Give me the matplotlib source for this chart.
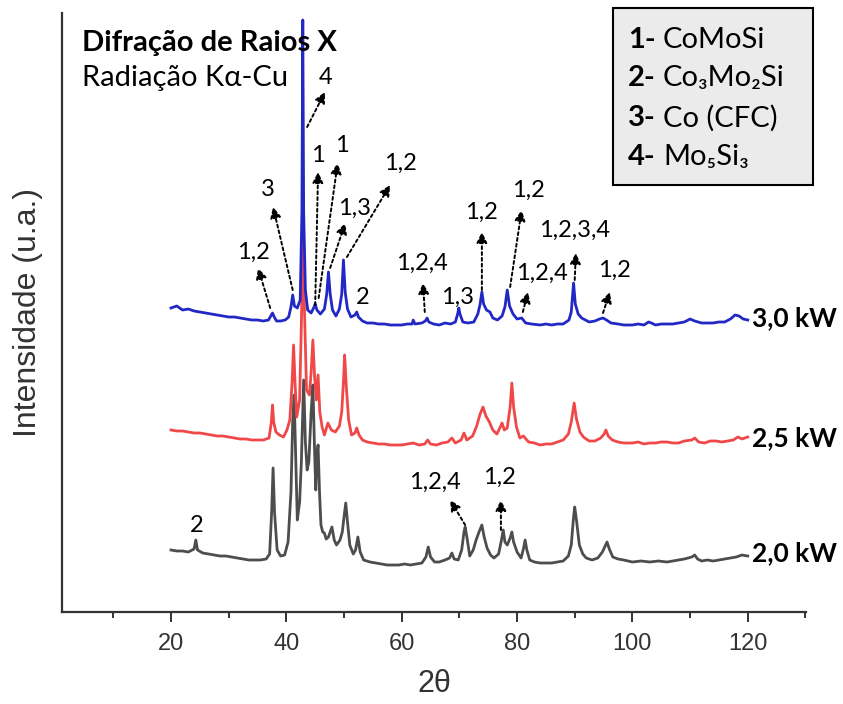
import matplotlib.pyplot as plt
from matplotlib.patches import Rectangle

# XRD traces: 2theta and intensity (arbitrary units)
tt_30 = [20, 21, 22, 23, 24, 25, 26, 27, 28, 29, 30, 31, 32, 33, 34, 35, 36, 36.9, 37.3, 37.6,
         37.9, 38.3, 39.0, 39.8, 40.4, 40.8, 41.1, 41.4, 41.9, 42.4, 42.7, 42.85, 43.0, 43.3,
         43.7, 44.3, 44.8, 45.0, 45.3, 45.9, 46.6, 47.0, 47.3, 47.6, 48.0, 48.6, 49.2, 49.6,
         49.9, 50.2, 50.6, 51.2, 51.9, 52.2, 52.5, 53.2, 54, 55, 56, 57, 58, 59, 60, 61, 61.8,
         62.0, 62.3, 63.5, 64.1, 64.4, 64.7, 65.5, 66.5, 67.5, 68.5, 69.3, 69.7, 69.9, 70.1,
         70.6, 71.5, 72.5, 73.2, 73.6, 73.9, 74.2, 74.7, 75.3, 75.8, 76.6, 77.4, 77.9, 78.3,
         78.7, 79.3, 80.0, 80.8, 81.5, 82.5, 84, 85, 86, 87, 88, 89.0, 89.4, 89.8, 90.1, 90.6,
         91.2, 92.5, 93.5, 94.3, 94.9, 95.5, 96.3, 97.5, 98.5, 100, 101, 102, 102.8, 103.3,
         104, 105, 106, 107, 108, 109, 110, 110.8, 112, 113, 114, 115, 116, 117, 117.8, 118.5,
         119.2, 120]
i_30 = [304, 306, 302, 303, 301, 300, 299, 298, 297, 296, 295, 295, 294, 293, 292, 292, 291,
        292, 296, 299, 295, 291, 291, 292, 295, 305, 317, 306, 304, 312, 400, 592, 400, 322,
        302, 299, 305, 308, 302, 298, 303, 318, 340, 318, 302, 296, 303, 318,
        352, 320, 303, 295, 297, 300, 295, 291, 289, 289, 288, 288, 287, 287, 287, 288, 288,
        292, 288, 289, 291, 294, 290, 288, 287, 289, 288, 290, 298, 304, 298,
        290, 289, 290, 298, 308, 320, 308, 302, 300, 294, 292, 296, 305, 322,
        306, 298, 293, 294, 289, 288, 287, 288, 287, 288, 288, 292, 300, 329, 308, 298,
        294, 290, 291, 293, 294, 292, 289, 288, 287, 287, 288, 287, 290, 289,
        287, 288, 288, 288, 289, 290, 293, 291, 289, 289, 289, 290, 290, 293, 297, 296,
        293, 292]

tt_25 = [20, 21, 22, 23, 24, 25, 26, 27, 28, 29, 30, 31, 32, 33, 34, 35, 36, 37.0, 37.4, 37.6,
         37.8, 38.2, 38.8, 39.5, 40.1, 40.6, 41.0, 41.25, 41.5, 41.8, 42.3, 42.65, 42.9, 43.15,
         43.5, 44.0, 44.3, 44.6, 44.9, 45.2, 45.5, 45.8, 46.2, 46.6, 47.2, 47.8, 48.5, 49.2,
         49.6, 49.9, 50.1, 50.4, 50.8, 51.3, 51.9, 52.2, 52.6, 53.2, 54, 55, 56, 57, 58, 59,
         60, 61, 62, 63, 64, 64.5, 65, 66, 67, 68, 68.7, 69.3, 70.3, 70.8, 71.3, 72.3, 73.0,
         73.6, 74.1, 74.6, 75.2, 75.8, 76.5, 77.1, 77.4, 77.8, 78.3, 78.8, 79.1, 79.4, 79.9,
         80.5, 81.1, 82, 83, 84, 85, 86, 87, 88, 88.9, 89.4, 89.9, 90.3, 90.9, 91.5, 92.5,
         93.5, 94.5, 95.1, 95.4, 95.8, 96.5, 97.5, 98.5, 100, 101, 102, 103, 104, 105, 106,
         107, 108, 109, 110.3, 110.8, 111.5, 112.5, 113.5, 114.5, 115.5, 116.5, 117.5, 118.3,
         119, 120]
i_25 = [182, 181, 181, 180, 179, 179, 178, 177, 176, 176, 175, 174, 173, 173, 172, 172, 172,
        174, 190, 207, 190, 180, 177, 175, 182, 192, 230, 267, 230, 195, 212, 300, 400, 300,
        222, 217, 240, 272, 235, 212, 237, 200, 185, 177, 189, 182, 180, 186,
        200, 230, 257, 225, 192, 177, 179, 184, 177, 172, 170, 169, 168, 168, 167, 167,
        167, 168, 169, 167, 168, 172, 168, 167, 169, 170, 174, 169, 172, 179, 172, 176, 186,
        198, 205, 196, 190, 182, 178, 185, 189, 182, 184, 205, 229, 205, 185,
        174, 176, 170, 169, 167, 168, 168, 170, 172, 178, 190, 209, 193, 180, 175, 171,
        171, 174, 178, 182, 176, 172, 170, 169, 169, 170, 168, 169, 169, 170, 170,
        169, 169, 171, 172, 174, 170, 169, 171, 171, 170, 171, 172, 175,
        173, 175]

tt_20 = [20, 21, 22, 23, 24.0, 24.3, 24.6, 25.5, 26.5, 27.5, 28.5, 29.5, 30.5, 31.5, 32.5,
         33.5, 34.5, 35.5, 36.5, 37.1, 37.45, 37.7, 37.95, 38.4, 39.0, 39.7, 40.3, 40.8, 41.1,
         41.35, 41.6, 41.9, 42.3, 42.6, 43.0, 43.3, 43.6, 43.9, 44.3, 44.6, 44.9, 45.1, 45.35,
         45.5, 45.75, 46.0, 46.3, 46.6, 46.9, 47.3, 47.9, 48.3, 48.7, 49.3, 49.7, 50.0, 50.3,
         50.6, 51.0, 51.6, 52.0, 52.4, 52.8, 53.4, 54.5, 55.5, 56.5, 57.5, 58.5, 59.5, 60.5,
         61.5, 62.5, 63.5, 64.2, 64.6, 65.0, 65.7, 66.5, 67.5, 68.3, 68.7, 69.1, 69.8, 70.4,
         70.8, 71.0, 71.3, 71.8, 72.4, 72.9, 73.4, 73.9, 74.3, 74.8, 75.4, 76.0, 76.8, 77.3,
         77.6, 77.9, 78.3, 78.8, 79.1, 79.4, 80.0, 80.7, 81.1, 81.4, 81.7, 82.2, 83, 84, 85,
         86, 87, 88, 88.9, 89.4, 89.8, 90.0, 90.3, 90.8, 91.4, 92, 93, 94, 94.8, 95.6, 96.0,
         96.6, 97.5, 98.5, 100, 101.5, 103, 104.5, 106, 107, 108, 109, 110.3, 110.8, 111.3,
         112, 113, 114, 115, 116, 117, 118, 119, 120]
i_20 = [62, 61, 61, 60, 63, 72, 62, 59, 58, 57, 56, 56, 55, 54, 53,
        52, 52, 52, 53, 58, 100, 144, 100, 62, 56, 57, 70, 120, 190,
        217, 160, 92, 110, 150, 232, 170, 142, 150, 200, 227, 160, 122, 160,
        167, 120, 87, 80, 79, 73, 75, 85, 72, 67, 72, 80, 95, 109,
        90, 67, 58, 62, 75, 60, 52, 50, 49, 48, 47, 47, 47, 48,
        47, 48, 49, 55, 65, 55, 50, 50, 52, 54, 59, 53, 52, 62,
        80, 85, 75, 56, 62, 72, 80, 87, 75, 64, 57, 54, 58, 72,
        82, 70, 67, 74, 80, 70, 60, 54, 63, 72, 62, 52, 50, 49, 49,
        49, 50, 51, 56, 67, 95, 105, 92, 67, 58, 54, 52, 54, 60, 70, 63,
        55, 53, 52, 50, 51, 50, 51, 50, 51, 52, 53, 55, 57, 53,
        51, 52, 51, 52, 53, 54, 55, 57, 56]

series_names = ['2,0 kW', '2,5 kW', '3,0 kW']
name_y = [59, 174, 294]

# peak labels with arrows: text, text position, arrow start, arrow tip
arrow_labels = ['1,2', '3', '4', '1', '1', '1,3', '1,2', '1,2,4', '1,2', '1,2',
                '1,2,4', '1,2,3,4', '1,2', '1,2,4', '1,2']
label_xy = [(34.2, 360), (36.8, 422), (46.8, 535), (45.5, 457), (49.6, 467), (51.9, 404),
            (59.7, 449), (63.5, 349), (73.9, 400), (81.9, 422), (84.3, 339), (90.0, 382),
            (96.9, 342), (65.8, 130), (77.0, 135)]
tail_xy = [(37.2, 304), (41.1, 322), (43.6, 485), (45.0, 307), (45.6, 314), (47.6, 344),
           (50.5, 355), (64.0, 300), (73.9, 322), (78.8, 325), (81.0, 300), (90.0, 332),
           (94.9, 299), (71.0, 87), (77.2, 82)]
head_xy = [(35.1, 344), (37.7, 405), (46.7, 520), (45.5, 440), (48.9, 449), (50.2, 389),
           (58.0, 427), (63.7, 329), (73.9, 380), (80.8, 402), (81.9, 320), (90.2, 359),
           (96.1, 320), (68.4, 112), (77.2, 112)]
plain_labels = ['2', '1,3', '2']
plain_xy = [(53.3, 314), (69.6, 315), (24.5, 87)]

legend_nums = ['1-', '2-', '3-', '4-']
legend_names = ['CoMoSi', 'Co₃Mo₂Si', 'Co (CFC)', 'Mo₅Si₃']

calibri = ['Lato', 'DejaVu Sans']
arial = ['Liberation Sans', 'DejaVu Sans']

fig = plt.figure(figsize=(8.43, 7.04), dpi=100)
ax = fig.add_axes([62 / 843, 1 - 612 / 704, 744 / 843, 599 / 704])

ax.plot(tt_20, i_20, color='#4d4d4d', lw=2.0)
ax.plot(tt_25, i_25, color='#f04848', lw=2.0)
ax.plot(tt_30, i_30, color='#2228c4', lw=2.0)

for name, y in zip(series_names, name_y):
    ax.text(120.8, y, name, fontsize=19, fontweight='bold', family=calibri,
            ha='left', va='center', clip_on=False)

for lab, lxy, t, h in zip(arrow_labels, label_xy, tail_xy, head_xy):
    ax.annotate('', xy=h, xytext=t,
                arrowprops=dict(arrowstyle='-|>', color='black', lw=1.4,
                                linestyle=(0, (1.5, 1.5)), mutation_scale=16,
                                shrinkA=0, shrinkB=0))
    ax.text(lxy[0], lxy[1], lab, fontsize=17, family=calibri, ha='center', va='center')

for lab, xy in zip(plain_labels, plain_xy):
    ax.text(xy[0], xy[1], lab, fontsize=17, family=calibri, ha='center', va='center')

ax.set_xlim(1.1, 130.1)
ax.set_ylim(0, 599)
ax.set_xticks(range(20, 121, 20))
ax.set_xticks(range(10, 131, 20), minor=True)
ax.set_yticks([])
for s in ['top', 'right']:
    ax.spines[s].set_visible(False)
for s in ['left', 'bottom']:
    ax.spines[s].set_linewidth(1.6)
    ax.spines[s].set_color('#333333')
ax.tick_params(axis='x', which='major', direction='out', length=7, width=1.4,
               color='#333333', pad=8, labelsize=17, labelcolor='#333333')
ax.tick_params(axis='x', which='minor', direction='out', length=4.5, width=1.4,
               color='#333333')
for t in ax.get_xticklabels():
    t.set_family(['Liberation Sans Narrow', 'Liberation Sans'])

ax.set_xlabel('2θ', fontsize=22, family=arial, color='#333333', labelpad=10)
ax.set_ylabel('Intensidade (u.a.)', fontsize=23, family=arial, color='#333333')
ax.yaxis.set_label_coords(-0.026, 0.5)

fig.text(82 / 843, 1 - 43 / 704, 'Difração de Raios X', fontsize=21, fontweight='bold',
         family=calibri, ha='left', va='center')
fig.text(82 / 843, 1 - 78 / 704, 'Radiação Kα-Cu', fontsize=21, family=calibri,
         ha='left', va='center')

# phase key box
fig.patches.append(Rectangle((613 / 843, 1 - 185 / 704), 200 / 843, 177 / 704,
                             transform=fig.transFigure, facecolor='#ebebeb',
                             edgecolor='black', lw=1.5))
row_y = [40, 78, 118, 157]
for num, name, y in zip(legend_nums, legend_names, row_y):
    fig.text(628 / 843, 1 - y / 704, num, fontsize=21, fontweight='bold', family=calibri,
             ha='left', va='center')
    fig.text(663 / 843, 1 - y / 704, name, fontsize=21, family=calibri,
             ha='left', va='center')

fig.savefig('out.png', dpi=100)
